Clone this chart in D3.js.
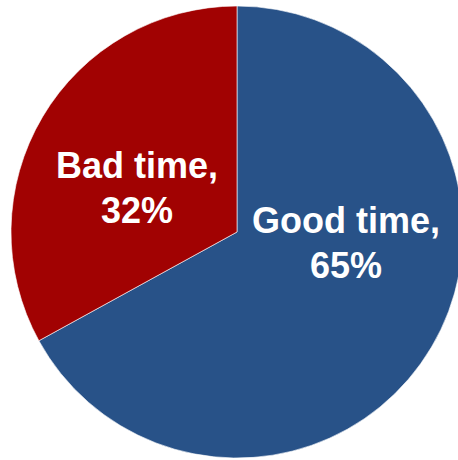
<!DOCTYPE html>
<html>
<head>
<meta charset="utf-8">
<script src="https://cdn.jsdelivr.net/npm/d3@7"></script>
<style>
  html, body { margin: 0; padding: 0; background: #fff; }
  svg { display: block; }
</style>
</head>
<body>
<svg id="chart" width="458" height="460"></svg>
<script>
// Share of respondents by answer
const categories = ["Good time", "Bad time"];
const values = [65, 32];
const colors = ["#285288", "#A10202"];

const svg = d3.select("#chart");
const cx = 237, cy = 232, radius = 226;

const pie = d3.pie().sort(null).value(d => d.value);
const arc = d3.arc().innerRadius(0).outerRadius(radius);

const data = categories.map((c, i) => ({ name: c, value: values[i], color: colors[i] }));
const arcs = pie(data);

const g = svg.append("g").attr("transform", `translate(${cx},${cy})`);

g.selectAll("path")
  .data(arcs)
  .join("path")
  .attr("d", arc)
  .attr("fill", d => d.data.color)
  .attr("stroke", "#ffffff")
  .attr("stroke-width", 0.6);

// Label anchor offsets from the pie centre (two lines each)
const labelPos = { "Good time": [109, 1], "Bad time": [-100, -54] };

const labels = g.selectAll("text.lbl")
  .data(arcs)
  .join("text")
  .attr("class", "lbl")
  .attr("text-anchor", "middle")
  .attr("fill", "#ffffff")
  .attr("font-family", "'Liberation Sans', Arial, sans-serif")
  .attr("font-weight", "bold")
  .attr("font-size", 36);

labels.append("tspan")
  .attr("x", d => labelPos[d.data.name][0])
  .attr("y", d => labelPos[d.data.name][1])
  .text(d => d.data.name + ",");

labels.append("tspan")
  .attr("x", d => labelPos[d.data.name][0])
  .attr("dy", 45)
  .text(d => d.data.value + "%");
</script>
</body>
</html>
